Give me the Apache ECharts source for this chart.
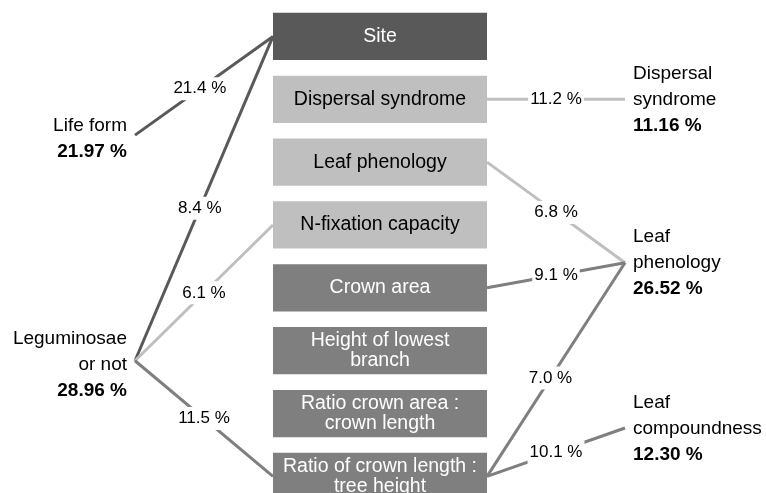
<!DOCTYPE html>
<html>
<head>
<meta charset="utf-8">
<script src="https://cdn.jsdelivr.net/npm/echarts@6/dist/echarts.min.js"></script>
<style>
  html, body { margin: 0; padding: 0; background: #fff; }
  #main { width: 766px; height: 493px; }
</style>
</head>
<body>
<div id="main"></div>
<script>
// middle column, top to bottom
const factors = [
  'Site',
  'Dispersal syndrome',
  'Leaf phenology',
  'N-fixation capacity',
  'Crown area',
  'Height of lowest\nbranch',
  'Ratio crown area :\ncrown length',
  'Ratio of crown length :\ntree height'
];
const factorShade = ['dark', 'light', 'light', 'light', 'mid', 'mid', 'mid', 'mid'];

// traits on both sides and their totals (%)
const leftTraits = ['Life form', 'Leguminosae\nor not'];
const leftTotals = [21.97, 28.96];
const rightTraits = ['Dispersal\nsyndrome', 'Leaf\nphenology', 'Leaf\ncompoundness'];
const rightTotals = [11.16, 26.52, 12.30];

// links [trait, factor, %]
const leftLinks = [
  ['Life form', 'Site', 21.4],
  ['Leguminosae\nor not', 'Site', 8.4],
  ['Leguminosae\nor not', 'N-fixation capacity', 6.1],
  ['Leguminosae\nor not', 'Ratio of crown length :\ntree height', 11.5]
];
const rightLinks = [
  ['Dispersal syndrome', 'Dispersal\nsyndrome', 11.2],
  ['Leaf phenology', 'Leaf\nphenology', 6.8],
  ['Crown area', 'Leaf\nphenology', 9.1],
  ['Ratio of crown length :\ntree height', 'Leaf\nphenology', 7.0],
  ['Ratio of crown length :\ntree height', 'Leaf\ncompoundness', 10.1]
];

// layout (x: 0 = left anchor, 1 = right anchor; y: row of the boxes)
const leftRow = [1.57, 5.16];
const rightRow = [1.0, 3.6, 6.23];
const leftLabelT = [0.47, 0.47, 0.5, 0.5];
const rightLabelT = [0.5, 0.5, 0.5, 0.46, 0.5];
const boxHalfW = 0.2184;
const boxHalfH = 0.376;
const shadeFill = { dark: '#595959', light: '#bfbfbf', mid: '#7f7f7f' };
const shadeText = { dark: '#ffffff', light: '#000000', mid: '#ffffff' };
const FAMILY = 'Liberation Sans';

const linkData = [];
leftLinks.forEach(function (l, k) {
  const ti = leftTraits.indexOf(l[0]);
  const fi = factors.indexOf(l[1]);
  linkData.push([0, leftRow[ti], 0.5 - boxHalfW, fi, l[2], fi, leftLabelT[k]]);
});
rightLinks.forEach(function (l, k) {
  const fi = factors.indexOf(l[0]);
  const ti = rightTraits.indexOf(l[1]);
  linkData.push([0.5 + boxHalfW, fi, 1, rightRow[ti], l[2], fi, rightLabelT[k]]);
});

const boxData = factors.map(function (f, i) { return [0.5, i]; });

const traitData = [];
leftTraits.forEach(function (t, i) { traitData.push([0, leftRow[i], 0, i]); });
rightTraits.forEach(function (t, i) { traitData.push([1, rightRow[i], 1, i]); });

function traitText(name, total) {
  const lines = name.split('\n').map(function (s) { return '{n|' + s + '}'; });
  lines.push('{b|' + total.toFixed(2) + ' %}');
  return lines.join('\n');
}

const chart = echarts.init(document.getElementById('main'), null, { renderer: 'canvas' });
chart.setOption({
  animation: false,
  backgroundColor: '#ffffff',
  grid: { left: 135, right: 141, top: 5, bottom: 16.6 },
  xAxis: { type: 'value', min: 0, max: 1, show: false },
  yAxis: { type: 'value', min: -0.5, max: 7, inverse: true, show: false },
  series: [
    {
      type: 'custom',
      name: 'links',
      data: linkData,
      encode: { x: [0, 2], y: [1, 3] },
      clip: false,
      z: 1,
      renderItem: function (params, api) {
        const p1 = api.coord([api.value(0), api.value(1)]);
        const p2 = api.coord([api.value(2), api.value(3)]);
        const shade = factorShade[api.value(5)];
        const t = api.value(6);
        return {
          type: 'group',
          children: [
            {
              type: 'line',
              shape: { x1: p1[0], y1: p1[1], x2: p2[0], y2: p2[1] },
              style: { stroke: shadeFill[shade], lineWidth: 3 }
            },
            {
              type: 'text',
              z2: 10,
              x: p1[0] + (p2[0] - p1[0]) * t,
              y: p1[1] + (p2[1] - p1[1]) * t,
              style: {
                text: api.value(4).toFixed(1) + ' %',
                fontSize: 17,
                fontFamily: FAMILY,
                fill: '#000',
                align: 'center',
                verticalAlign: 'middle',
                backgroundColor: '#ffffff',
                padding: [3, 2]
              }
            }
          ]
        };
      }
    },
    {
      type: 'custom',
      name: 'factors',
      data: boxData,
      encode: { x: 0, y: 1 },
      clip: false,
      z: 2,
      renderItem: function (params, api) {
        const i = api.value(1);
        const tl = api.coord([0.5 - boxHalfW, i - boxHalfH]);
        const br = api.coord([0.5 + boxHalfW, i + boxHalfH]);
        const c = api.coord([0.5, i]);
        const shade = factorShade[i];
        return {
          type: 'group',
          children: [
            {
              type: 'rect',
              shape: { x: tl[0], y: tl[1], width: br[0] - tl[0], height: br[1] - tl[1] },
              style: { fill: shadeFill[shade] }
            },
            {
              type: 'text',
              x: c[0],
              y: c[1],
              style: {
                text: factors[i],
                fontSize: 19.5,
                fontFamily: FAMILY,
                lineHeight: 20,
                fill: shadeText[shade],
                align: 'center',
                verticalAlign: 'middle'
              }
            }
          ]
        };
      }
    },
    {
      type: 'custom',
      name: 'traits',
      data: traitData,
      encode: { x: 0, y: 1 },
      clip: false,
      z: 3,
      renderItem: function (params, api) {
        const side = api.value(2);
        const i = api.value(3);
        const p = api.coord([api.value(0), api.value(1)]);
        const name = side === 0 ? leftTraits[i] : rightTraits[i];
        const total = side === 0 ? leftTotals[i] : rightTotals[i];
        const al = side === 0 ? 'right' : 'left';
        return {
          type: 'text',
          x: side === 0 ? p[0] - 8 : p[0] + 8,
          y: p[1] + (side === 0 ? 4 : 0.5),
          style: {
            text: traitText(name, total),
            align: al,
            verticalAlign: 'middle',
            fill: '#000',
            rich: {
              n: { fontSize: 19, fontFamily: FAMILY, lineHeight: 26, fill: '#000', align: al },
              b: { fontSize: 19, fontFamily: FAMILY, fontWeight: 'bold', lineHeight: 26, fill: '#000', align: al }
            }
          }
        };
      }
    }
  ]
});
</script>
</body>
</html>
